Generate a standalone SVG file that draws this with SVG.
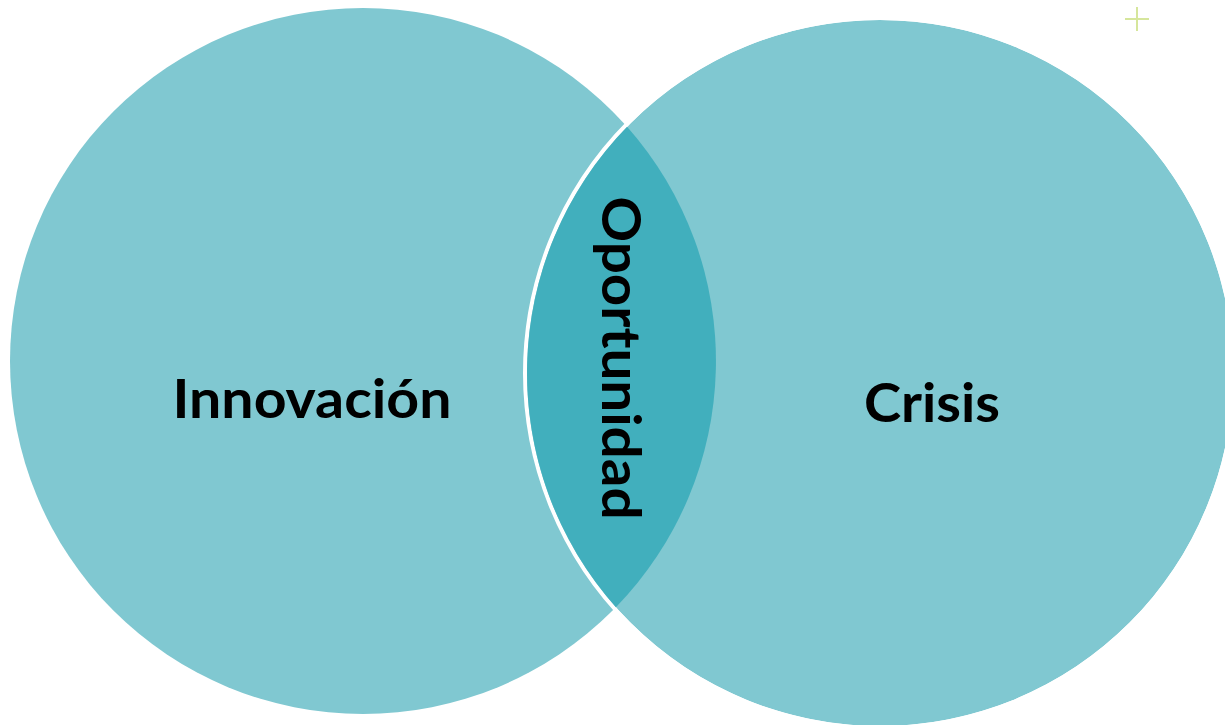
<svg xmlns="http://www.w3.org/2000/svg" width="1225" height="725" viewBox="0 0 1225 725">
<style>
.circ{fill:#80C8D1}
.lbl{font-family:"Lato","Open Sans","Liberation Sans",sans-serif;font-weight:700;fill:#000;font-size:53px}
</style>
<rect width="1225" height="725" fill="#fff"/>
<g id="innovacion">
<circle class="circ" cx="363" cy="361" r="353"/>
</g>
<g id="crisis">
<circle class="circ" cx="880" cy="373" r="353"/>
<circle cx="880" cy="373" r="355" fill="none" stroke="#fff" stroke-width="4"/>
</g>
<g id="oportunidad">
<path d="M627.1 126.8 A353 353 0 0 1 615.9 607.2 A353 353 0 0 1 627.1 126.8 Z" fill="#41AFBD"/>
</g>
<g id="labels">
<text class="lbl" x="312" y="418" text-anchor="middle" textLength="279" lengthAdjust="spacingAndGlyphs">Innovación</text>
<text class="lbl" x="932" y="422" text-anchor="middle" textLength="136" lengthAdjust="spacingAndGlyphs">Crisis</text>
<text class="lbl" transform="translate(602 358) rotate(90)" x="0" y="0" text-anchor="middle" textLength="323" lengthAdjust="spacingAndGlyphs">Oportunidad</text>
</g>
<g id="plus" stroke="#D6E69C" stroke-width="2">
<line x1="1125" y1="19" x2="1149" y2="19"/>
<line x1="1137" y1="7" x2="1137" y2="31"/>
</g>
</svg>
